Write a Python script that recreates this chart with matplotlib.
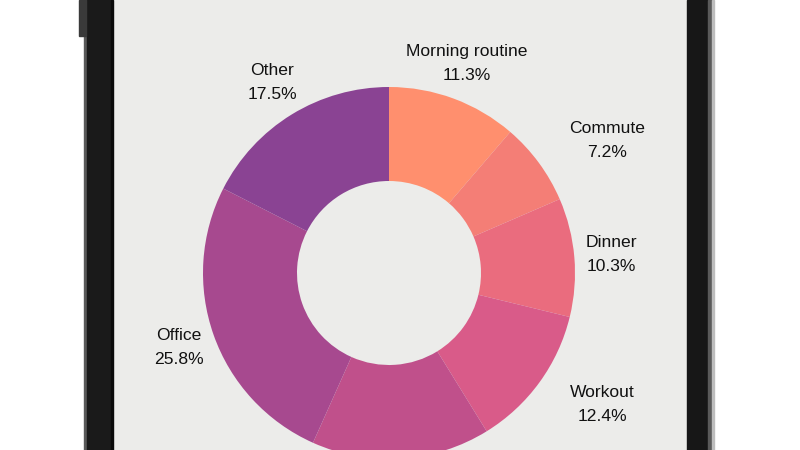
import matplotlib.pyplot as plt
from matplotlib.patches import Rectangle

# slices, clockwise from 12 o'clock
labels = ['Morning routine', 'Commute', 'Dinner', 'Workout', 'Evening', 'Office', 'Other']
shares = [11.3, 7.2, 10.3, 12.4, 15.5, 25.8, 17.5]
slice_colors = ['#ff8f6e', '#f47e76', '#ea6c7e', '#d95b89', '#c0508b', '#a7498f', '#8a4393']
label_align = ['center', 'left', 'center', 'left', 'center', 'center', 'center']

plt.rcParams['font.family'] = ['Liberation Sans', 'DejaVu Sans']

fig = plt.figure(figsize=(8, 4.5), dpi=100, facecolor='white')
ax = fig.add_axes([0, 0, 1, 1])

# phone screen and bezel
ax.add_patch(Rectangle((113, 0), 574, 450, color='#ececea', zorder=0))
ax.add_patch(Rectangle((84, 0), 3, 450, color='#5a5a5a', zorder=3))
ax.add_patch(Rectangle((87, 0), 24, 450, color='#1a1a1a', zorder=3))
ax.add_patch(Rectangle((111, 0), 2, 450, color='#0a0a0a', zorder=3))
ax.add_patch(Rectangle((79, 414), 7, 36, color='#3a3a3a', zorder=4))
ax.add_patch(Rectangle((687, 0), 21, 450, color='#171717', zorder=3))
ax.add_patch(Rectangle((708, 0), 4, 450, color='#5a5a5a', zorder=3))
ax.add_patch(Rectangle((712, 0), 2, 450, color='#bdbdbd', zorder=3))

texts = [f'{name}\n{v:.1f}%' for name, v in zip(labels, shares)]
wedges, label_texts = ax.pie(
    shares, labels=texts, colors=slice_colors, startangle=90, counterclock=False,
    radius=186, center=(389, 177), labeldistance=1.2,
    wedgeprops=dict(width=94, linewidth=0), textprops=dict(fontsize=12.6, color='#111111'),
    frame=True,
)
ax.set_xlim(0, 800)
ax.set_ylim(0, 450)
ax.axis('off')

for t, ha in zip(label_texts, label_align):
    t.set_horizontalalignment(ha)
    t.set_verticalalignment('center')
    t.set_multialignment('center')
    t.set_linespacing(1.75)
    # the phone screen ends at the bottom of the picture; labels below it are not shown
    x, y = t.get_position()
    if y < 0:
        t.set_visible(False)

fig.savefig('out.png', dpi=100, facecolor='white')
